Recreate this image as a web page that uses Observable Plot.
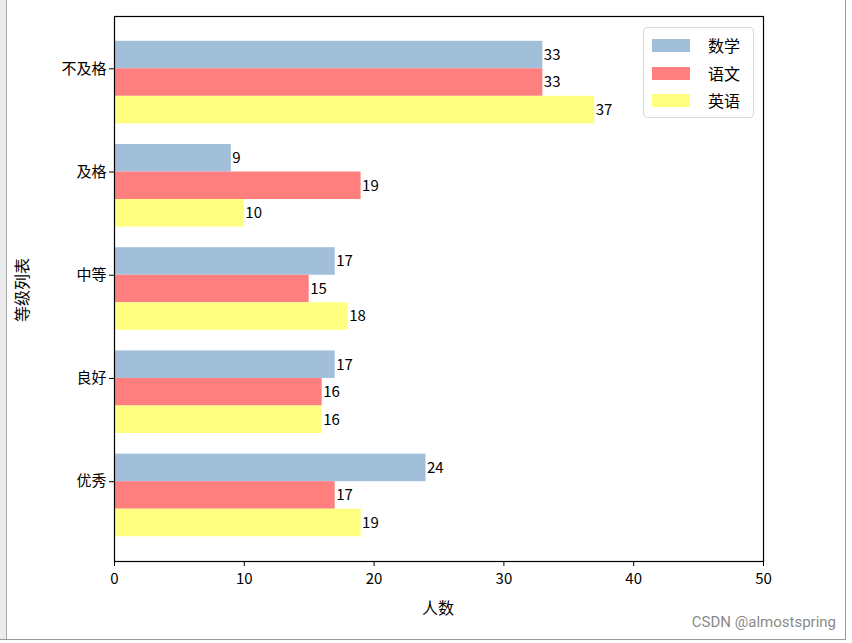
<!DOCTYPE html>
<html>
<head>
<meta charset="utf-8">
<script src="https://cdn.jsdelivr.net/npm/d3@7"></script>
<script src="https://cdn.jsdelivr.net/npm/@observablehq/plot@0.6"></script>
<style>
  html, body { margin: 0; padding: 0; background: #fff; }
  #wrap { position: relative; width: 852px; height: 643px; overflow: hidden; font-family: "Noto Sans CJK SC", sans-serif; }
  #leftbar { position: absolute; left: 0; top: 0; width: 6px; height: 640px; background: #ececec; border-right: 1.5px solid #a8a8a8; }
  #rightline { position: absolute; left: 845px; top: 0; width: 0; height: 640px; border-left: 1px solid #9a9a9a; }
  #bottomline { position: absolute; left: 0; top: 639px; width: 846px; height: 0; border-top: 1.5px solid #9a9a9a; }
  #legend { position: absolute; left: 643px; top: 27px; width: 111px; height: 91px; box-sizing: border-box; border: 1px solid #d8d8d8; border-radius: 4px; background: rgba(255,255,255,0.85); }
  .row { position: absolute; left: 8px; height: 16px; }
  .sw { position: absolute; left: 0; top: 2px; width: 38px; height: 13px; }
  .lab { position: absolute; left: 56px; top: -4px; font-size: 16px; color: #000; white-space: nowrap; }
  #wm { position: absolute; right: 16px; top: 613px; font-family: "Roboto", "DejaVu Sans", sans-serif; font-size: 15px; color: #8a8a8a; }
  #chart { position: absolute; left: 0; top: 0; }
  #xlabel { position: absolute; left: 438px; top: 607px; transform: translate(-50%, -50%); font-size: 16px; color: #000; white-space: nowrap; }
  #ylabel { position: absolute; left: 21px; top: 290px; transform: translate(-50%, -50%) rotate(-90deg); font-size: 16px; color: #000; white-space: nowrap; }
</style>
</head>
<body>
<div id="wrap">
  <div id="leftbar"></div>
  <div id="rightline"></div>
  <div id="bottomline"></div>
  <div id="chart"></div>
  <div id="legend"></div>
  <div id="xlabel"></div>
  <div id="ylabel"></div>
  <div id="wm">CSDN @almostspring</div>
</div>
<script>
const categories = ["不及格", "及格", "中等", "良好", "优秀"];
const subjects = ["数学", "语文", "英语"];
const mathScores = [33, 9, 17, 17, 24];
const chineseScores = [33, 19, 15, 16, 17];
const englishScores = [37, 10, 18, 16, 19];
const colors = ["#a2bfd9", "#ff7f7f", "#ffff7f"];
const xTicks = [0, 10, 20, 30, 40, 50];
const xLabel = "人数";
const yLabel = "等级列表";

const series = [mathScores, chineseScores, englishScores];
const barW = 0.8 / subjects.length;
const data = [];
categories.forEach((c, i) => {
  subjects.forEach((s, k) => {
    const y1 = i + (k - 1) * barW;
    data.push({category: c, subject: s, value: series[k][i], y1, y2: y1 + barW, ym: y1 + barW / 2});
  });
});
const yLo = -barW - 0.24;
const yHi = categories.length - 1 + 2 * barW + 0.24;

const chart = Plot.plot({
  width: 852,
  height: 643,
  marginLeft: 114,
  marginRight: 89,
  marginTop: 16,
  marginBottom: 82,
  style: {fontFamily: "'Noto Sans CJK SC', sans-serif", fontSize: "15px", color: "#000", background: "transparent", overflow: "visible"},
  x: {domain: [0, 50], ticks: xTicks, tickFormat: d => String(d), label: null, tickSize: 5, tickPadding: 7},
  y: {domain: [yHi, yLo], ticks: categories.map((c, i) => i), tickFormat: i => categories[i], label: null, tickSize: 5, tickPadding: 3},
  color: {domain: subjects, range: colors},
  marks: [
    Plot.rectX(data, {x1: 0, x2: "value", y1: "y1", y2: "y2", fill: "subject"}),
    Plot.text(data, {x: "value", y: "ym", text: d => String(d.value), textAnchor: "start", dx: 1, fontSize: 15, fill: "#000"}),
    Plot.frame({stroke: "#000", strokeWidth: 1.2})
  ]
});
document.getElementById("chart").appendChild(chart);
document.getElementById("xlabel").textContent = xLabel;
document.getElementById("ylabel").textContent = yLabel;

const legend = document.getElementById("legend");
subjects.forEach((s, k) => {
  const row = document.createElement("div");
  row.className = "row";
  row.style.top = (9 + k * 27.5) + "px";
  const sw = document.createElement("div");
  sw.className = "sw";
  sw.style.background = colors[k];
  const lab = document.createElement("div");
  lab.className = "lab";
  lab.textContent = s;
  row.appendChild(sw);
  row.appendChild(lab);
  legend.appendChild(row);
});
</script>
</body>
</html>
